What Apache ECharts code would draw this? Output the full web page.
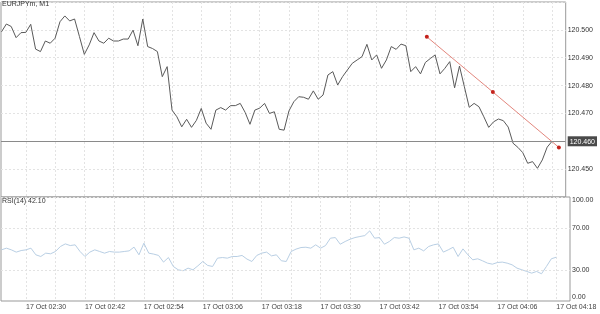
<!DOCTYPE html>
<html><head><meta charset="utf-8">
<script src="https://cdn.jsdelivr.net/npm/echarts@6/dist/echarts.min.js"></script>
<style>html,body{margin:0;padding:0;background:#fff}#c{width:600px;height:314px}</style>
</head><body><div id="c"></div>
<script>
const symbolName = 'EURJPYm, M1';
const rsiTitle = 'RSI(14) 42.10';
const timeLabels = ['17 Oct 02:30','17 Oct 02:42','17 Oct 02:54','17 Oct 03:06','17 Oct 03:18','17 Oct 03:30','17 Oct 03:42','17 Oct 03:54','17 Oct 04:06','17 Oct 04:18'];
const labelIndex = [5,17,29,41,53,65,77,89,101,113];
const rsiTicks = [0,30,70,100];
const rsiLevels = [30,70];
const currentPrice = 120.460;
const price = [
120.4993,120.5021,120.5012,120.4972,120.4990,120.4991,120.5020,120.4931,120.4922,120.4960,
120.4952,120.4970,120.5029,120.5050,120.5032,120.5039,120.4976,120.4912,120.4946,120.4990,
120.4960,120.4952,120.4970,120.4960,120.4960,120.4967,120.4967,120.4999,120.4943,120.5039,
120.4940,120.4933,120.4922,120.4832,120.4868,120.4712,120.4688,120.4652,120.4679,120.4650,
120.4675,120.4718,120.4665,120.4643,120.4712,120.4721,120.4712,120.4728,120.4728,120.4736,
120.4704,120.4661,120.4712,120.4719,120.4736,120.4700,120.4706,120.4643,120.4640,120.4709,
120.4742,120.4760,120.4758,120.4751,120.4781,120.4751,120.4766,120.4838,120.4850,120.4802,
120.4832,120.4856,120.4880,120.4892,120.4904,120.4948,120.4892,120.4910,120.4862,120.4892,
120.4940,120.4930,120.4949,120.4943,120.4850,120.4868,120.4842,120.4883,120.4897,120.4910,
120.4842,120.4862,120.4886,120.4792,120.4870,120.4796,120.4722,120.4736,120.4724,120.4688,
120.4650,120.4670,120.4680,120.4674,120.4651,120.4593,120.4578,120.4559,120.4521,120.4527,
120.4503,120.4533,120.4579,120.4600];
const rsi = [
49.2,50.8,49.2,47.0,48.5,49.2,50.8,44.4,42.8,46.0,
45.4,47.6,52.4,54.9,53.3,54.0,47.6,42.8,47.0,49.2,
47.6,46.0,47.6,47.0,47.0,47.6,48.2,51.8,44.4,55.6,
46.0,45.1,43.8,37.4,41.8,33.2,30.0,29.1,31.6,30.0,
33.8,38.0,34.2,33.2,41.2,41.8,41.2,42.8,42.8,43.8,
40.3,38.0,43.8,46.0,47.0,43.4,44.4,38.7,38.0,47.6,
49.9,51.4,51.7,50.8,54.0,50.8,53.3,60.4,61.0,54.6,
57.2,59.4,61.0,62.0,62.9,67.4,60.4,61.0,54.6,57.2,
61.0,60.4,61.6,60.4,49.2,50.8,48.2,52.4,54.0,54.9,
47.0,49.2,51.7,42.8,50.1,44.4,39.6,40.6,38.6,36.4,
35.4,37.0,37.4,36.4,34.8,31.6,30.0,28.4,26.8,28.4,
26.2,33.2,40.6,42.1];
const trendX = [87.3, 100.85, 114.4];
const trendY = [120.4975, 120.4777, 120.4578];

const gridIdx = [];
for (let k = labelIndex[0]; k <= labelIndex[labelIndex.length-1]; k += 6) gridIdx.push(k);

const FONT = 'Liberation Sans, Arial, sans-serif';
const chart = echarts.init(document.getElementById('c'), null, {renderer:'canvas'});
const vSplit = {show:true, lineStyle:{color:'#e3e3e3', type:[2,2], width:1}};
chart.setOption({
  animation:false,
  backgroundColor:'#fff',
  textStyle:{fontFamily:FONT},
  title:[
    {text:symbolName, left:2, top:1, padding:0, textStyle:{fontSize:7, fontWeight:'normal', color:'#333', fontFamily:FONT}},
    {text:rsiTitle, left:2, top:198, padding:0, textStyle:{fontSize:7, fontWeight:'normal', color:'#333', fontFamily:FONT}}
  ],
  grid:[
    {left:1, right:30, top:2, height:195, show:true, borderColor:'#999', borderWidth:1, backgroundColor:'transparent'},
    {left:1, right:30, top:197, height:104, show:true, borderColor:'#999', borderWidth:1, backgroundColor:'transparent'}
  ],
  xAxis:[
    {gridIndex:0, type:'value', min:-0.1, max:115.8, axisLine:{show:false},
     axisTick:{show:false, customValues:gridIdx}, axisLabel:{show:false}, splitLine:vSplit},
    {gridIndex:1, type:'value', min:-0.1, max:115.8, axisLine:{show:false},
     axisTick:{show:false, customValues:gridIdx},
     axisLabel:{show:true, customValues:labelIndex, align:'left', margin:3, fontSize:7, color:'#444', fontFamily:FONT,
       formatter:(v)=>timeLabels[labelIndex.indexOf(Math.round(v))] || ''},
     splitLine:vSplit}
  ],
  yAxis:[
    {gridIndex:0, type:'value', position:'right', min:120.44, max:120.51, interval:0.01,
     axisLine:{show:false}, axisTick:{show:false},
     axisLabel:{showMinLabel:false, showMaxLabel:false, margin:2, fontSize:7, color:'#333', fontFamily:FONT,
       formatter:(v)=> Math.abs(v-currentPrice)<1e-6 ? '{cur|'+v.toFixed(3)+'}' : v.toFixed(3),
       rich:{cur:{backgroundColor:'#4a4a4a', color:'#fff', fontSize:7, padding:[2,2,1,2], fontFamily:FONT}}},
     splitLine:{show:true, lineStyle:{color:'#e3e3e3', type:[2,2], width:1}}},
    {gridIndex:1, type:'value', position:'right', min:0, max:100,
     axisLine:{show:false}, axisTick:{show:false},
     axisLabel:{customValues:rsiTicks, margin:2, fontSize:7, color:'#333', fontFamily:FONT,
       verticalAlignMinLabel:'bottom', verticalAlignMaxLabel:'top',
       formatter:(v)=>v.toFixed(2)},
     splitLine:{show:false}}
  ],
  series:[
    {type:'line', xAxisIndex:0, yAxisIndex:0, data:price.map((v,i)=>[i,v]), showSymbol:false, silent:true,
     lineStyle:{color:'#5a5a5a', width:1}, z:3,
     markLine:{silent:true, symbol:'none', label:{show:false},
       lineStyle:{color:'#8a8a8a', type:'solid', width:1}, data:[{yAxis:currentPrice}]}},
    {type:'line', xAxisIndex:0, yAxisIndex:0, data:trendX.map((x,i)=>[x,trendY[i]]), symbol:'circle', symbolSize:4,
     showSymbol:true, silent:true, lineStyle:{color:'#e3877e', width:1}, itemStyle:{color:'#c4221c'}, z:4},
    {type:'line', xAxisIndex:1, yAxisIndex:1, data:rsi.map((v,i)=>[i,v]), showSymbol:false, silent:true,
     lineStyle:{color:'#b9cfe4', width:1}, z:3,
     markLine:{silent:true, symbol:'none', label:{show:false},
       lineStyle:{color:'#e3e3e3', type:[2,2], width:1}, data:rsiLevels.map(v=>({yAxis:v}))}}
  ]
});
</script></body></html>
